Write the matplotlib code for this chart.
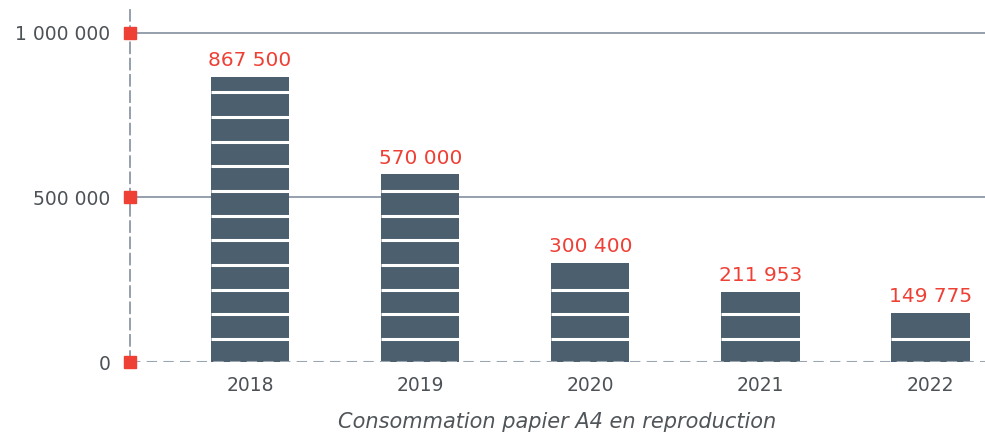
import numpy as np
import matplotlib.pyplot as plt

years = ["2018", "2019", "2020", "2021", "2022"]
values = [867500, 570000, 300400, 211953, 149775]
yticks = [0, 500000, 1000000]
xlabel = "Consommation papier A4 en reproduction"

bar_color = "#4b5f6e"
red = "#ee4035"
grid_color = "#8d99a6"
text_color = "#4d5257"

def fmt(v):
    return f"{v:,}".replace(",", " ")

fig = plt.figure(figsize=(9.85, 4.32), dpi=100)
ax = fig.add_axes([0.132, 0.162, 0.868, 0.815])

x = np.arange(len(years))
width = 0.46
ax.bar(x, values, width=width, color=bar_color, zorder=2)

# white dividers to make the bars look like stacked blocks
step = 75000
for xi, v in zip(x, values):
    for d in np.arange(70000, v - 20000, step):
        ax.plot([xi - width / 2, xi + width / 2], [d, d], color="white", lw=2.2, zorder=3, solid_capstyle="butt")
    ax.annotate(fmt(v), (xi, v), xytext=(0, 5), textcoords="offset points",
                ha="center", va="bottom", color=red, fontsize=14.5)

# gridlines
for t in yticks[1:]:
    ax.axhline(t, color=grid_color, lw=1.3, zorder=1)
ax.axhline(0, color="#9aa5b1", lw=1.5, ls=(0, (5, 3)), zorder=4)

ax.set_xlim(-0.706, 4.32)
ax.set_ylim(0, 1.07e6)

for s in ["top", "right", "bottom"]:
    ax.spines[s].set_visible(False)
ax.spines["left"].set_color(grid_color)
ax.spines["left"].set_linestyle((0, (6, 3)))
ax.spines["left"].set_linewidth(1.3)

ax.set_yticks(yticks)
ax.set_yticklabels([fmt(t) for t in yticks])
ax.set_xticks(x)
ax.set_xticklabels(years)
ax.tick_params(axis="y", length=0, pad=14, labelsize=13.5, labelcolor=text_color)
ax.tick_params(axis="x", length=0, pad=10, labelsize=13.5, labelcolor=text_color)

# red square markers on the axis
ax.plot([-0.706] * len(yticks), yticks, "s", color=red, ms=8.5, clip_on=False, zorder=5)

ax.set_xlabel(xlabel, fontsize=15, style="italic", color="#505559", labelpad=12)

fig.savefig("out.png", dpi=100)
